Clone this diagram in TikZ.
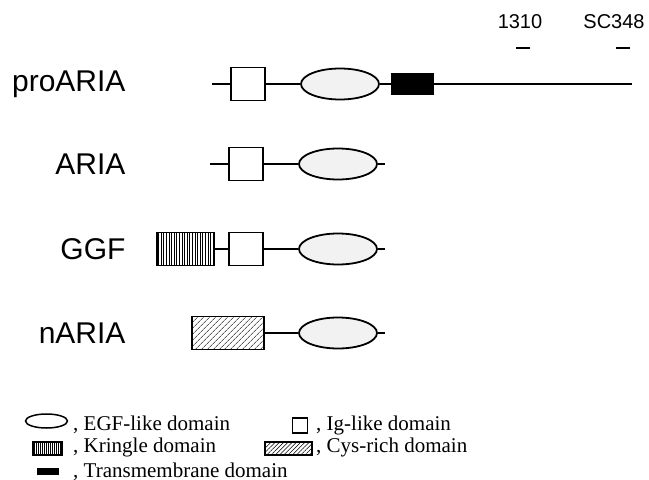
\documentclass[tikz,border=0pt]{standalone}
\usepackage{fontspec}
\setmainfont{Liberation Serif}
\setsansfont{Liberation Sans}
\usetikzlibrary{shapes.geometric,patterns.meta}

\tikzset{
  backbone/.style={line width=1.8pt},
  dombox/.style={draw, line width=1.8pt, inner sep=0pt},
  iglike/.style={dombox, fill=white, minimum width=34pt, minimum height=33pt},
  egflike/.style={dombox, ellipse, fill=gray!10, minimum width=78pt, minimum height=31pt},
  tmdomain/.style={dombox, fill=black, minimum width=41pt, minimum height=20pt},
  kringle/.style={dombox, fill=white, pattern={Lines[angle=90,distance=2.6pt,line width=0.7pt]}, minimum width=57pt, minimum height=33pt},
  cysrich/.style={dombox, pattern={Lines[angle=45,distance=4pt,line width=0.6pt]}, minimum width=72pt, minimum height=33pt},
  protein/.style={anchor=east, font=\sffamily\fontsize{30}{32}\selectfont},
  probe/.style={font=\sffamily\fontsize{20}{22}\selectfont},
  probebar/.style={fill=black, inner sep=0pt, minimum width=14pt, minimum height=2.6pt},
  legtext/.style={anchor=base west, inner sep=0pt, font=\fontsize{21}{23}\selectfont},
}

\begin{document}
\begin{tikzpicture}[x=1pt, y=-1pt]
  \useasboundingbox (0,0) rectangle (649,480);

  % proARIA
  \node[protein] (proaria) at (129,84) {proARIA};
  \coordinate (pa0) at (212,84);
  \coordinate (pa1) at (632,84);
  \node[iglike] (ig1) at (248,84) {};
  \node[egflike] (egf1) at (340,84) {};
  \node[tmdomain] (tm1) at (412.5,84) {};
  \draw[backbone] (pa0) -- (ig1) -- (egf1) -- (tm1) -- (pa1);

  % probes above the tail
  \node[probe] (n1310) at (520,22) {1310};
  \node[probe] (sc348) at (614,22) {SC348};
  \node[probebar] (b1310) at (523,48) {};
  \node[probebar] (bsc348) at (623,48) {};

  % ARIA
  \node[protein] (aria) at (129,164) {ARIA};
  \coordinate (ar0) at (210,164);
  \coordinate (ar1) at (385,164);
  \node[iglike] (ig2) at (246,164) {};
  \node[egflike] (egf2) at (338,164) {};
  \draw[backbone] (ar0) -- (ig2) -- (egf2) -- (ar1);

  % GGF
  \node[protein] (ggf) at (129,249) {GGF};
  \coordinate (gg1) at (385,249);
  \node[kringle] (kr3) at (185.5,249) {};
  \node[iglike] (ig3) at (246,249) {};
  \node[egflike] (egf3) at (338,249) {};
  \draw[backbone] (kr3) -- (ig3) -- (egf3) -- (gg1);

  % nARIA
  \node[protein] (naria) at (129,333) {nARIA};
  \coordinate (na1) at (385,333);
  \node[cysrich] (cys4) at (228,333) {};
  \node[egflike] (egf4) at (338,333) {};
  \draw[backbone] (cys4) -- (egf4) -- (na1);

  % key
  \node[dombox, ellipse, line width=1.5pt, minimum width=42pt, minimum height=14pt] (kegf) at (46.5,421) {};
  \node[legtext] (tegf) at (73,430) {, EGF-like domain};
  \node[dombox, line width=1.5pt, minimum width=15pt, minimum height=15pt] (kig) at (300,425.5) {};
  \node[legtext] (tig) at (316,430) {, Ig-like domain};
  \node[dombox, line width=1.3pt, pattern={Lines[angle=90,distance=2pt,line width=0.5pt]}, minimum width=29pt, minimum height=13pt] (kkr) at (47.5,448.5) {};
  \node[legtext] (tkr) at (73,452) {, Kringle domain};
  \node[dombox, line width=1.3pt, pattern={Lines[angle=45,distance=3pt,line width=0.5pt]}, minimum width=47pt, minimum height=13pt] (kcys) at (288.5,448.5) {};
  \node[legtext] (tcys) at (316,452) {, Cys-rich domain};
  \node[fill=black, inner sep=0pt, minimum width=22pt, minimum height=7pt] (ktm) at (48,471.5) {};
  \node[legtext] (ttm) at (73,477) {, Transmembrane domain};
\end{tikzpicture}
\end{document}
